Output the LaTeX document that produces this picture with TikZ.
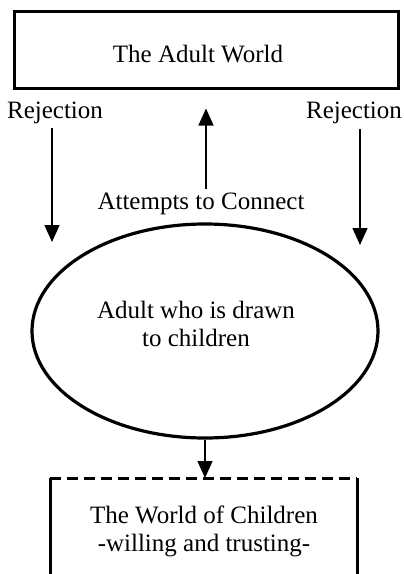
\documentclass[tikz,border=0pt]{standalone}
\usepackage{fontspec}
\setmainfont{Liberation Serif}
\usetikzlibrary{arrows.meta,shapes.geometric}

\begin{document}
\begin{tikzpicture}[x=1pt,y=-1pt,
        txt/.style={inner sep=0pt,font=\fontsize{25}{28}\selectfont,align=center},
        arr/.style={line width=1.5pt,-{Triangle[length=17pt,width=15pt]}}]
        \useasboundingbox (0,0) rectangle (404,574);

        \coordinate (L)  at (52,242);
        \coordinate (R)  at (360,245);
        \coordinate (CT) at (204,478);

        % boxes and ellipse
        \node[draw,line width=3pt,minimum width=384pt,minimum height=77pt] (world) at (206,49.5) {};
        \node[draw,ellipse,line width=3.2pt,minimum width=346pt,minimum height=214pt] (adult) at (205,331) {};
        \draw[line width=3pt] (50,590) -- (50,478);
        \draw[line width=3pt,dash pattern=on 11pt off 6pt] (50,478) -- (357,478);
        \draw[line width=3pt] (357,478) -- (357,590);

        % texts
        \node[txt] (worldtxt) at (198,54)  {The Adult World};
        \node[txt] (rejL)     at (55,113)  {Rejection};
        \node[txt] (rejR)     at (354,113) {Rejection};
        \node[txt] (attempts) at (201,204) {Attempts to Connect};
        \node[txt] (adulttxt) at (196,324) {Adult who is drawn\\to children};
        \node[txt] (childtxt) at (204,531) {The World of Children\\-willing and trusting-};

        % arrows
        \draw[arr] (rejL.south -| L) ++(0,4) -- (L);
        \draw[arr] (rejR.south -| R) ++(0,5) -- (R);
        \draw[arr,shorten <=4pt,shorten >=19pt] (attempts.north -| world.south) -- (world.south);
        \draw[arr] (adult.south) -- (adult.south |- CT);
\end{tikzpicture}
\end{document}
